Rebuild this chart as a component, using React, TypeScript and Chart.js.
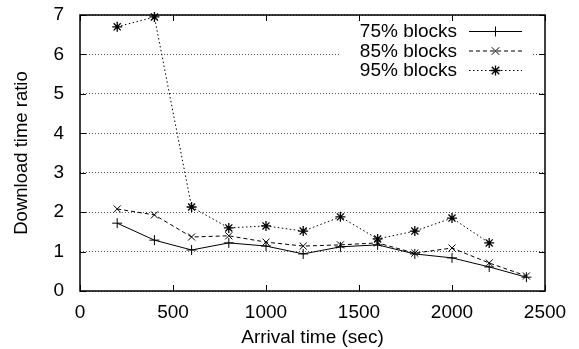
import React, { useEffect, useRef } from "react";
import { Chart, registerables } from "chart.js";

Chart.register(...registerables);

const arrivalTimes = [200, 400, 600, 800, 1000, 1200, 1400, 1600, 1800, 2000, 2200, 2400];
const blocks75 = [1.72, 1.29, 1.04, 1.22, 1.14, 0.94, 1.12, 1.17, 0.94, 0.84, 0.61, 0.35];
const blocks85 = [2.08, 1.93, 1.37, 1.40, 1.24, 1.14, 1.17, 1.22, 0.96, 1.09, 0.71, 0.38];
const blocks95: (number | null)[] = [6.70, 6.95, 2.13, 1.60, 1.65, 1.52, 1.88, 1.32, 1.52, 1.85, 1.22, null];
const seriesLabels = ["75% blocks", "85% blocks", "95% blocks"];
const xTicks = [0, 500, 1000, 1500, 2000, 2500];
const yTicks = [0, 1, 2, 3, 4, 5, 6, 7];

const FONT = "'Liberation Sans', Arial, Helvetica, sans-serif";
const dashes = [[], [4, 3], [1.5, 2.5]];
const styles = ["cross", "crossRot", "star"];

function drawMarker(ctx: CanvasRenderingContext2D, style: string, x: number, y: number, r: number) {
  ctx.save();
  ctx.setLineDash([]);
  ctx.beginPath();
  if (style === "cross" || style === "star") {
    ctx.moveTo(x - r, y); ctx.lineTo(x + r, y);
    ctx.moveTo(x, y - r); ctx.lineTo(x, y + r);
  }
  if (style === "crossRot" || style === "star") {
    const d = r * 0.75;
    ctx.moveTo(x - d, y - d); ctx.lineTo(x + d, y + d);
    ctx.moveTo(x - d, y + d); ctx.lineTo(x + d, y - d);
  }
  ctx.stroke();
  ctx.restore();
}

const framePlugin = {
  id: "frame",
  beforeDatasetsDraw(chart: any) {
    const { ctx, chartArea } = chart;
    const { right, top } = chartArea;
    ctx.save();
    ctx.fillStyle = "#fff";
    ctx.fillRect(right - 205, top + 3, 193, 64);
    ctx.restore();
  },
  afterDatasetsDraw(chart: any) {
    const { ctx, chartArea, scales } = chart;
    const { left, right, top, bottom } = chartArea;
    ctx.save();
    ctx.strokeStyle = "#000";
    ctx.lineWidth = 1.5;
    ctx.setLineDash([]);
    ctx.strokeRect(left, top, right - left, bottom - top);
    ctx.lineWidth = 1;
    const tl = 6;
    ctx.beginPath();
    for (const v of xTicks) {
      const x = Math.round(scales.x.getPixelForValue(v)) + 0.5;
      ctx.moveTo(x, bottom); ctx.lineTo(x, bottom - tl);
      ctx.moveTo(x, top); ctx.lineTo(x, top + tl);
    }
    for (const v of yTicks) {
      const y = Math.round(scales.y.getPixelForValue(v)) + 0.5;
      ctx.moveTo(left, y); ctx.lineTo(left + tl, y);
      ctx.moveTo(right, y); ctx.lineTo(right - tl, y);
    }
    ctx.stroke();

    ctx.font = `19px ${FONT}`;
    ctx.fillStyle = "#000";
    ctx.textAlign = "right";
    ctx.textBaseline = "middle";
    const textRight = right - 88;
    const lineX0 = right - 76;
    const lineX1 = right - 23;
    seriesLabels.forEach((lab, i) => {
      const y = top + 16 + i * 19.5;
      ctx.fillText(lab, textRight, y + 1);
      ctx.beginPath();
      ctx.setLineDash(dashes[i]);
      ctx.lineWidth = 1;
      ctx.moveTo(lineX0, y + 0.5); ctx.lineTo(lineX1, y + 0.5);
      ctx.stroke();
      ctx.lineWidth = i === 2 ? 1.3 : 1;
      drawMarker(ctx, styles[i], (lineX0 + lineX1) / 2, y + 0.5, 5);
    });
    ctx.restore();
  },
};

export default function App() {
  const ref = useRef<HTMLCanvasElement>(null);
  useEffect(() => {
    if (!ref.current) return;
    const mk = (label: string, data: (number | null)[], i: number) => ({
      label,
      data: arrivalTimes.map((x, k) => ({ x, y: data[k] })),
      borderColor: "#000",
      backgroundColor: "#000",
      borderWidth: 1,
      borderDash: dashes[i],
      pointStyle: styles[i],
      pointRadius: 5,
      pointBorderWidth: i === 2 ? 1.3 : 1,
      pointBorderColor: "#000",
      fill: false,
      tension: 0,
      clip: false,
      spanGaps: false,
    });
    const chart = new Chart(ref.current, {
      type: "line",
      data: {
        datasets: [mk(seriesLabels[0], blocks75, 0), mk(seriesLabels[1], blocks85, 1), mk(seriesLabels[2], blocks95, 2)],
      },
      options: {
        animation: false,
        responsive: false,
        devicePixelRatio: 1,
        layout: { padding: { top: 15, right: 34, left: 0, bottom: 0 } },
        plugins: { legend: { display: false }, tooltip: { enabled: false } },
        scales: {
          x: {
            type: "linear",
            min: 0,
            max: 2500,
            afterBuildTicks: (s: any) => { s.ticks = xTicks.map((v) => ({ value: v })); },
            afterFit: (s: any) => { s.height = 58; s.paddingLeft = 0; s.paddingRight = 0; },
            grid: { display: false, drawTicks: false },
            border: { display: false },
            ticks: { color: "#000", font: { family: FONT, size: 19 }, padding: 10, maxRotation: 0, callback: (v: any) => String(v) },
            title: { display: true, text: "Arrival time (sec)", color: "#000", font: { family: FONT, size: 19 }, padding: { top: 0, bottom: 0 } },
          },
          y: {
            min: 0,
            max: 7,
            afterBuildTicks: (s: any) => { s.ticks = yTicks.map((v) => ({ value: v })); },
            afterFit: (s: any) => { s.width = 80; s.paddingTop = 0; s.paddingBottom = 0; },
            grid: { display: true, drawTicks: false, color: "#555", lineWidth: 1 },
            border: { display: false, dash: [1, 2] },
            ticks: { color: "#000", font: { family: FONT, size: 19 }, padding: 16, callback: (v: any) => String(v) },
            title: { display: true, text: "Download time ratio", color: "#000", font: { family: FONT, size: 18.5 }, padding: { top: 11, bottom: 0 } },
          },
        },
      },
      plugins: [framePlugin],
    });
    return () => chart.destroy();
  }, []);
  return (
    <div style={{ position: "absolute", left: 0, top: 0, width: 579, height: 349, background: "#fff" }}>
      <canvas ref={ref} width={579} height={349} style={{ display: "block" }} />
    </div>
  );
}
